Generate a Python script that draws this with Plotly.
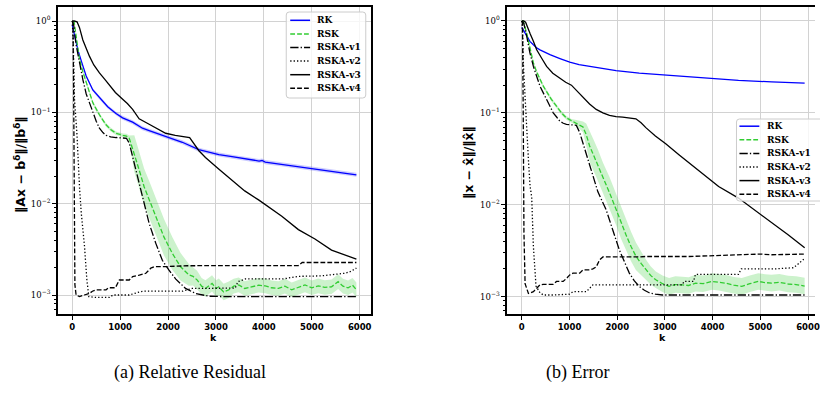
import plotly.graph_objects as go

# ---------------- data: (a) Relative Residual ----------------
k_rk_res = [0, 48, 118, 200, 290, 429, 567, 740, 913, 1050, 1260, 1465, 1605, 1952, 2298, 2641,
            3060, 3336, 3700, 3900, 3960, 4028, 4400, 4720, 5070, 5412, 5700, 5931]
rk_res = [0.9, 0.67, 0.48, 0.35, 0.25, 0.176, 0.145, 0.115, 0.097, 0.087, 0.078, 0.067, 0.063, 0.0545,
          0.047, 0.039, 0.0345, 0.0327, 0.0305, 0.0293, 0.0297, 0.0285, 0.0268, 0.0254, 0.0240, 0.0226,
          0.0216, 0.0207]
rk_res_spread = [0.0, 0.005, 0.01, 0.012, 0.015, 0.018, 0.02, 0.02, 0.02, 0.022, 0.022, 0.022, 0.022, 0.022,
                 0.022, 0.022, 0.022, 0.022, 0.022, 0.022, 0.022, 0.022, 0.022, 0.022, 0.022, 0.022,
                 0.022, 0.022]

k_rsk_res = [0, 40, 100, 152, 220, 290, 360, 430, 500, 567, 640, 706, 800, 913, 1060, 1130, 1190, 1295,
             1397, 1500, 1639, 1777, 1915, 2088, 2261, 2434, 2520, 2606, 2700, 2780, 2918, 3000, 3059,
             3160, 3266, 3370, 3474, 3600, 3751, 3890, 4028, 4160, 4304, 4440, 4581, 4720, 4858, 5000,
             5135, 5270, 5412, 5550, 5650, 5758, 5850, 5931]
rsk_res = [1.0, 0.97, 0.58, 0.38, 0.28, 0.21, 0.165, 0.127, 0.107, 0.094, 0.082, 0.073, 0.065, 0.059,
           0.056, 0.055, 0.052, 0.0355, 0.0234, 0.0153, 0.0101, 0.0066, 0.0043, 0.00286, 0.00204,
           0.00166, 0.0016, 0.00146, 0.00125, 0.00118, 0.00134, 0.00118, 0.00123, 0.00108, 0.00114,
           0.00125, 0.00129, 0.00118, 0.00123, 0.00128, 0.00126, 0.0012, 0.00118, 0.00125, 0.00114,
           0.00122, 0.00129, 0.0012, 0.00126, 0.00121, 0.00123, 0.0014, 0.00125, 0.0012, 0.00128, 0.00114]
rsk_res_spread = [0.0, 0.01, 0.02, 0.02, 0.02, 0.02, 0.02, 0.02, 0.02, 0.02,
                  0.02, 0.02, 0.02, 0.02, 0.02, 0.025, 0.03, 0.2, 0.2, 0.2,
                  0.2, 0.2, 0.2, 0.18, 0.15, 0.12, 0.1, 0.1, 0.09, 0.09,
                  0.09, 0.09, 0.09, 0.09, 0.09, 0.08, 0.08, 0.08, 0.08, 0.08,
                  0.08, 0.08, 0.08, 0.08, 0.08, 0.08, 0.08, 0.08, 0.08, 0.08,
                  0.08, 0.08, 0.08, 0.08, 0.08, 0.08]

k_v1_res = [0, 30, 80, 152, 220, 290, 360, 429, 500, 567, 640, 706, 800, 913, 1050, 1130, 1190, 1295,
            1397, 1500, 1604, 1742, 1880, 2019, 2157, 2365, 2573, 2849, 3200, 4000, 5000, 5931]
v1_res = [1.0, 0.9, 0.55, 0.34, 0.23, 0.16, 0.125, 0.098, 0.08, 0.067, 0.06, 0.056, 0.054, 0.053, 0.052,
          0.052, 0.046, 0.0276, 0.0167, 0.010, 0.0061, 0.0037, 0.0024, 0.00187, 0.0015, 0.00118,
          0.00104, 0.00097, 0.00096, 0.00096, 0.00096, 0.00096]

k_v2_res = [0, 20, 48, 97, 152, 187, 256, 305, 346, 500, 775, 850, 1000, 1190, 1400, 1500, 2300, 2500,
            3400, 3460, 3612, 4400, 4720, 5200, 5690, 5800, 5931]
v2_res = [1.0, 0.6, 0.135, 0.059, 0.015, 0.008, 0.0034, 0.00146, 0.00096, 0.00094, 0.00094, 0.001,
          0.001, 0.001, 0.00108, 0.0011, 0.0011, 0.00118, 0.00119, 0.0014, 0.0015, 0.0015, 0.0016,
          0.00162, 0.00173, 0.0018, 0.00197]

k_v3_res = [0, 40, 100, 150, 221, 290, 360, 450, 567, 680, 775, 900, 1052, 1150, 1260, 1396, 1605, 1800,
            1950, 2150, 2365, 2450, 2644, 2780, 3056, 3336, 3600, 3889, 4028, 4374, 4720, 5066, 5412,
            5700, 5931]
v3_res = [1.0, 1.0, 0.98, 0.85, 0.62, 0.5, 0.41, 0.33, 0.27, 0.23, 0.20, 0.165, 0.139, 0.125, 0.108,
          0.085, 0.074, 0.065, 0.059, 0.056, 0.054, 0.053, 0.038, 0.032, 0.024, 0.018, 0.0138, 0.011,
          0.0098, 0.0073, 0.0052, 0.0041, 0.0031, 0.00275, 0.00247]

k_v4_res = [0, 15, 28, 40, 55, 80, 152, 250, 360, 420, 500, 706, 760, 900, 983, 1190, 1260, 1400, 1536,
            1640, 1710, 2000, 2400, 3335, 4720, 4800, 5931]
v4_res = [1.0, 0.95, 0.2, 0.008, 0.0013, 0.001, 0.00096, 0.001, 0.00104, 0.0011, 0.00114, 0.00114,
          0.0012, 0.0012, 0.00146, 0.00146, 0.00159, 0.00165, 0.00173, 0.00197, 0.00204, 0.00205,
          0.00209, 0.0021, 0.0021, 0.00227, 0.00227]

# ---------------- data: (b) Error ----------------
k_rk_err = [0, 50, 104, 170, 243, 310, 381, 480, 590, 800, 1005, 1200, 1422, 1700, 1976, 2462, 3155,
            3849, 4542, 5236, 5929]
rk_err = [0.85, 0.76, 0.68, 0.6, 0.55, 0.51, 0.485, 0.455, 0.43, 0.39, 0.356, 0.335, 0.32, 0.302, 0.288,
          0.271, 0.254, 0.24, 0.226, 0.217, 0.21]

k_rsk_err = [0, 30, 104, 170, 243, 310, 381, 450, 520, 620, 728, 830, 936, 1040, 1144, 1283, 1350, 1422,
             1510, 1595, 1700, 1838, 1976, 2080, 2184, 2290, 2392, 2500, 2601, 2700, 2809, 2950, 3086,
             3220, 3363, 3500, 3641, 3800, 3988, 4130, 4265, 4440, 4612, 4780, 4958, 5100, 5236, 5400,
             5582, 5750, 5929]
rsk_err = [1.0, 1.0, 0.73, 0.5, 0.35, 0.28, 0.23, 0.195, 0.17, 0.14, 0.118, 0.1, 0.088, 0.082, 0.078,
           0.07, 0.058, 0.0435, 0.034, 0.027, 0.0195, 0.0135, 0.0089, 0.0063, 0.0047, 0.0035, 0.00275,
           0.0023, 0.00196, 0.0017, 0.00152, 0.00138, 0.00129, 0.00135, 0.00134, 0.00132, 0.0014,
           0.00138, 0.00146, 0.00143, 0.0014, 0.00133, 0.00129, 0.00138, 0.00146, 0.00142, 0.0014,
           0.00143, 0.00137, 0.00135, 0.0013]
rsk_err_spread = [0.0, 0.0, 0.02, 0.02, 0.02, 0.02, 0.02, 0.02, 0.02, 0.02,
                  0.02, 0.02, 0.02, 0.02, 0.03, 0.06, 0.12, 0.17, 0.17, 0.17,
                  0.17, 0.17, 0.17, 0.17, 0.17, 0.16, 0.15, 0.13, 0.11, 0.1,
                  0.09, 0.09, 0.09, 0.09, 0.09, 0.09, 0.09, 0.09, 0.09, 0.09,
                  0.09, 0.09, 0.09, 0.09, 0.09, 0.09, 0.09, 0.09, 0.09, 0.09, 0.09]

k_v1_err = [0, 40, 104, 170, 243, 310, 381, 450, 520, 590, 659, 730, 798, 870, 936, 1040, 1144, 1214,
            1320, 1422, 1510, 1595, 1700, 1768, 1907, 2046, 2150, 2254, 2360, 2462, 2570, 2670, 2800,
            2947, 3300, 4000, 5000, 5929]
v1_err = [1.0, 0.95, 0.68, 0.45, 0.32, 0.245, 0.195, 0.165, 0.14, 0.118, 0.1, 0.09, 0.081, 0.077, 0.075,
          0.074, 0.073, 0.061, 0.04, 0.0264, 0.019, 0.0138, 0.0105, 0.0088, 0.0053, 0.0032, 0.0024,
          0.0018, 0.00148, 0.00129, 0.00117, 0.0011, 0.00106, 0.00104, 0.00104, 0.00104, 0.00104, 0.00104]

k_v2_err = [0, 15, 35, 70, 104, 140, 173, 208, 243, 270, 298, 381, 450, 660, 1000, 1075, 1352, 1491,
            2500, 3363, 3400, 3600, 3640, 4540, 4600, 5300, 5700, 5929]
v2_err = [1.0, 0.8, 0.32, 0.13, 0.06, 0.03, 0.016, 0.012, 0.0035, 0.0019, 0.0013, 0.0011, 0.00104,
          0.00104, 0.00106, 0.00113, 0.00113, 0.00134, 0.00134, 0.00134, 0.00146, 0.00146, 0.00174,
          0.00174, 0.002, 0.002, 0.00206, 0.0026]

k_v3_err = [0, 40, 80, 120, 173, 243, 312, 420, 520, 650, 798, 920, 1040, 1150, 1283, 1420, 1560, 1700,
            1838, 1976, 2115, 2250, 2392, 2500, 2600, 2800, 3017, 3300, 3571, 3849, 4126, 4542, 4958,
            5236, 5582, 5929]
v3_err = [1.0, 1.0, 0.97, 0.85, 0.73, 0.6, 0.485, 0.39, 0.32, 0.27, 0.24, 0.215, 0.2, 0.175, 0.146,
          0.125, 0.109, 0.1, 0.094, 0.091, 0.09, 0.088, 0.086, 0.078, 0.069, 0.056, 0.046, 0.0347,
          0.0266, 0.0204, 0.0158, 0.0118, 0.0082, 0.0063, 0.0047, 0.0034]

k_v4_err = [0, 15, 30, 45, 69, 139, 243, 381, 450, 660, 728, 867, 950, 1005, 1075, 1214, 1283, 1422,
            1490, 1560, 1630, 1700, 2460, 2600, 3500, 4200, 5000, 5236, 5600, 5929]
v4_err = [1.0, 0.95, 0.1, 0.005, 0.00138, 0.00108, 0.00113, 0.00134, 0.00136, 0.00136, 0.00146, 0.00146,
          0.0016, 0.00172, 0.0018, 0.0018, 0.00195, 0.00195, 0.002, 0.0021, 0.0025, 0.0027, 0.0027,
          0.00273, 0.00273, 0.0028, 0.0029, 0.00285, 0.0029, 0.0029]

series_names = ["RK", "RSK", "RSKA-v1", "RSKA-v2", "RSKA-v3", "RSKA-v4"]
x_tick_vals = [0, 1000, 2000, 3000, 4000, 5000, 6000]
x_tick_text = ["0", "1000", "2000", "3000", "4000", "5000", "6000"]
y_tick_vals = [1, 0.1, 0.01, 0.001]
y_tick_text = ["10<sup>0</sup>", "10<sup>\u22121</sup>", "10<sup>\u22122</sup>", "10<sup>\u22123</sup>"]
y_minor_vals = [m * 10 ** e for e in (-4, -3, -2, -1) for m in range(2, 10)]

# ---------------- styling ----------------
W, H = 820, 403
LW = 1.3
BLUE = "#0000ff"
GREEN = "#32cd32"
DASH = "4.8px,2.1px"
DASHDOT = "8.3px,2.1px,1.3px,2.1px"
DOT = "1.3px,2.1px"
styles = {
    "RK": dict(color=BLUE, dash="solid"),
    "RSK": dict(color=GREEN, dash=DASH),
    "RSKA-v1": dict(color="black", dash=DASHDOT),
    "RSKA-v2": dict(color="black", dash=DOT),
    "RSKA-v3": dict(color="black", dash="solid"),
    "RSKA-v4": dict(color="black", dash=DASH),
}


def px(x):
    return x / W


def py(y):
    return 1 - y / H


fig = go.Figure()


def band(k, v, s, xa, ya, fill):
    up = [a * 10 ** b for a, b in zip(v, s)]
    lo = [a / 10 ** b for a, b in zip(v, s)]
    fig.add_trace(go.Scatter(x=list(k) + list(k)[::-1], y=up + lo[::-1], fill="toself",
                             fillcolor=fill, line=dict(width=0), mode="lines",
                             xaxis=xa, yaxis=ya, showlegend=False, hoverinfo="skip"))


band(k_rk_res, rk_res, rk_res_spread, "x", "y", "rgba(0,0,255,0.2)")
band(k_rsk_res, rsk_res, rsk_res_spread, "x", "y", "rgba(50,205,50,0.25)")
band(k_rsk_err, rsk_err, rsk_err_spread, "x2", "y2", "rgba(50,205,50,0.25)")

left = [(k_rk_res, rk_res), (k_rsk_res, rsk_res), (k_v1_res, v1_res), (k_v2_res, v2_res),
        (k_v3_res, v3_res), (k_v4_res, v4_res)]
right = [(k_rk_err, rk_err), (k_rsk_err, rsk_err), (k_v1_err, v1_err), (k_v2_err, v2_err),
         (k_v3_err, v3_err), (k_v4_err, v4_err)]

for (xa, ya, data) in (("x", "y", left), ("x2", "y2", right)):
    for name, (kk, vv) in zip(series_names, data):
        st = styles[name]
        fig.add_trace(go.Scatter(x=kk, y=vv, mode="lines", name=name, xaxis=xa, yaxis=ya,
                                 line=dict(color=st["color"], dash=st["dash"], width=LW),
                                 showlegend=False))

tickfont_x = dict(family="DejaVu Sans", size=8.5, color="black", weight="bold")
tickfont_y = dict(family="DejaVu Serif", size=8.5, color="black")


def xaxis(domain, rng):
    return dict(domain=domain, range=rng, tickvals=x_tick_vals, ticktext=x_tick_text,
                ticks="outside", ticklen=3.5, tickwidth=1, tickcolor="black",
                showline=True, linewidth=2, linecolor="black", mirror=True,
                showgrid=True, gridcolor="#d2d2d2", gridwidth=1.1, zeroline=False,
                tickfont=tickfont_x, ticklabeloverflow="allow")


def yaxis(domain, rng, mirror, anchor):
    return dict(domain=domain, type="log", range=rng, tickvals=y_tick_vals, ticktext=y_tick_text,
                ticks="outside", ticklen=3.5, tickwidth=1, tickcolor="black",
                minor=dict(tickvals=y_minor_vals, ticks="outside", ticklen=2, tickwidth=0.8,
                           tickcolor="black", showgrid=False),
                showline=True, linewidth=2, linecolor="black", mirror=mirror,
                showgrid=True, gridcolor="#d2d2d2", gridwidth=1.1, zeroline=False,
                tickfont=tickfont_y, anchor=anchor)


ydom = [py(314), py(7)]
fig.update_layout(
    width=W, height=H, margin=dict(l=0, r=0, t=0, b=0),
    paper_bgcolor="white", plot_bgcolor="white", showlegend=False,
    xaxis=dict(xaxis([px(58), px(373)], [-305, 6230]), anchor="y"),
    yaxis=yaxis(ydom, [-3.208, 0.1533], True, "x"),
    xaxis2=dict(xaxis([px(510), 1.0], [-312.5, 6146]), anchor="y2"),
    yaxis2=yaxis(ydom, [-3.19, 0.152], False, "x2"),
)

# ---------------- manual legends ----------------
shapes = []
annotations = []


def rounded_box(x0, y0, x1, y1, r):
    X0, X1 = px(x0), px(x1)
    Y0, Y1 = py(y0), py(y1)
    rx, ry = r / W, r / H
    return (f"M {X0 + rx},{Y0} L {X1 - rx},{Y0} Q {X1},{Y0} {X1},{Y0 - ry} "
            f"L {X1},{Y1 + ry} Q {X1},{Y1} {X1 - rx},{Y1} L {X0 + rx},{Y1} "
            f"Q {X0},{Y1} {X0},{Y1 + ry} L {X0},{Y0 - ry} Q {X0},{Y0} {X0 + rx},{Y0} Z")


def text(t, x, y, size, family, xanchor="center", angle=0):
    return dict(text=t, x=px(x), y=py(y), xref="paper", yref="paper", showarrow=False,
                xanchor=xanchor, yanchor="middle", textangle=angle,
                font=dict(family=family, size=size, color="black"))


def legend(box, rows, lx0, lx1, tx):
    shapes.append(dict(type="path", path=rounded_box(*box, 3), xref="paper", yref="paper",
                       fillcolor="rgba(255,255,255,0.8)", line=dict(color="#cccccc", width=1),
                       layer="above"))
    for name, yy in zip(series_names, rows):
        st = styles[name]
        shapes.append(dict(type="line", xref="paper", yref="paper", x0=px(lx0), x1=px(lx1),
                           y0=py(yy), y1=py(yy), layer="above",
                           line=dict(color=st["color"], dash=st["dash"], width=LW + 0.2)))
        annotations.append(text(f"<b>{name}</b>", tx, yy, 9, "DejaVu Serif", xanchor="left"))


legend((288, 12, 368, 98), [20.3, 33.9, 47.5, 61.1, 74.7, 88.3], 292, 312, 317)
legend((741, 119, 830, 201), [126.2, 139.8, 153.4, 167.0, 180.6, 194.2], 744, 764, 770)

annotations += [
    text("<b>k</b>", 215, 337, 9.5, "DejaVu Sans"),
    text("<b>k</b>", 667, 337, 9.5, "DejaVu Sans"),
    text("<b>\u2016Ax \u2212 b<sup>\u03b4</sup>\u2016/\u2016b<sup>\u03b4</sup>\u2016</b>",
         20, 165, 12.5, "DejaVu Sans", angle=-90),
    text("<b>\u2016x \u2212 x\u0302\u2016/\u2016x\u0302\u2016</b>", 472, 163, 12.5, "DejaVu Sans", angle=-90),
    text("(a) Relative Residual", 191.5, 372, 18, "Liberation Serif"),
    text("(b) Error", 581, 372, 18, "Liberation Serif"),
]

fig.update_layout(shapes=shapes, annotations=annotations)
fig.write_html("out.html")
